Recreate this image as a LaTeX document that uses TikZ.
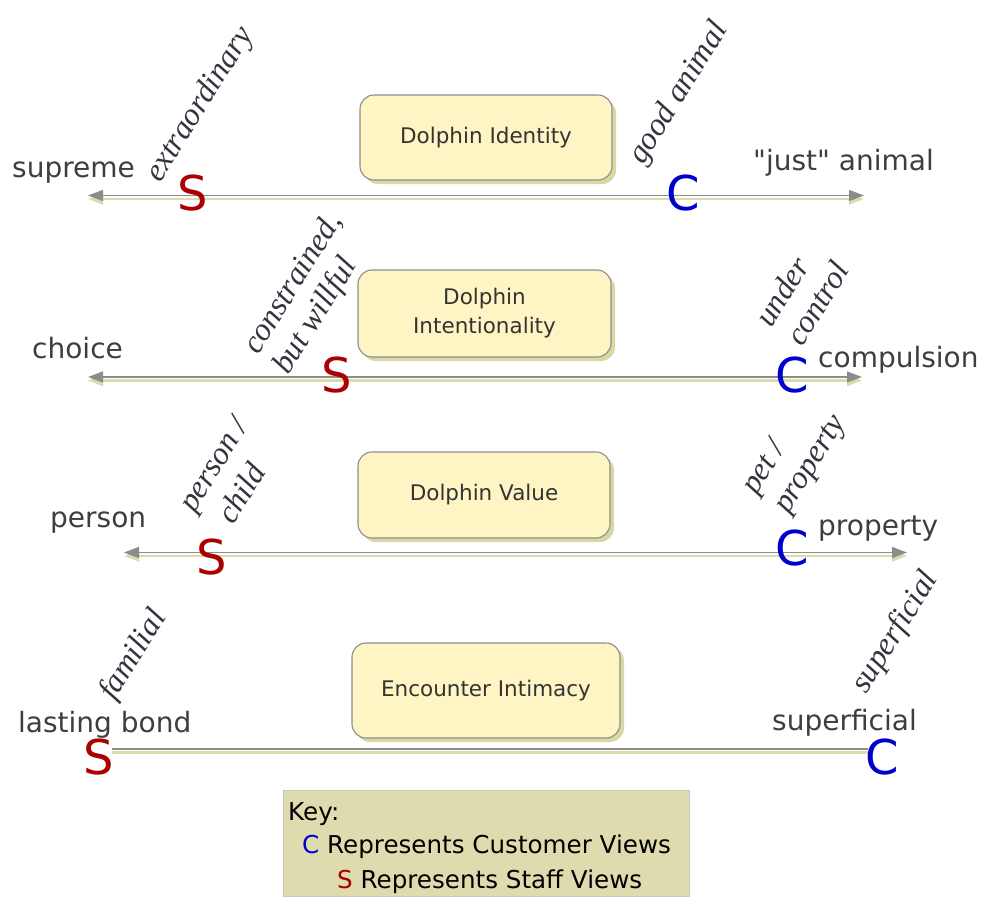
\documentclass[tikz,border=0pt]{standalone}
\usepackage{fontspec}
\setmainfont{DejaVu Sans}
\newfontfamily\polefont{DejaVu Sans}
\newfontfamily\viewfont{Liberation Serif}
\usetikzlibrary{arrows.meta,shadows}

\definecolor{polegray}{HTML}{3E3E3E}
\definecolor{viewgray}{HTML}{34343F}
\definecolor{boxfill}{HTML}{FFF4C4}
\definecolor{boxedge}{HTML}{8E8E8E}
\definecolor{boxshade}{HTML}{D8D8A2}
\definecolor{boxtext}{HTML}{333333}
\definecolor{axisgray}{HTML}{8C8C8C}
\definecolor{axiskhaki}{HTML}{DCDCAA}
\definecolor{staffred}{HTML}{AA0000}
\definecolor{custblue}{HTML}{0000CC}
\definecolor{keyfill}{HTML}{DEDCAE}
\definecolor{keyedge}{HTML}{C8C8C8}

\begin{document}
\begin{tikzpicture}[x=1pt,y=-1pt,
  pole/.style={font=\polefont\fontsize{28}{32}\selectfont, text=polegray, inner sep=0pt, anchor=base west},
  view/.style={font=\viewfont\itshape\fontsize{32}{36}\selectfont, text=viewgray, inner sep=0pt, anchor=base west, rotate=58},
  topic/.style={rounded corners=14pt, draw=boxedge, line width=1.1pt, fill=boxfill,
    align=center, font=\fontsize{21.5}{29}\selectfont, text=boxtext,
    drop shadow={shadow xshift=4pt, shadow yshift=-4pt, fill=boxshade, opacity=1}},
  staffmark/.style={font=\fontsize{48}{48}\selectfont, text=staffred, inner sep=0pt},
  custmark/.style={font=\fontsize{48}{48}\selectfont, text=custblue, inner sep=0pt},
  axisline/.style={draw=axisgray, line width=1.6pt},
  axisshade/.style={draw=axiskhaki, line width=2.4pt, transform canvas={yshift=-3.5pt}},
  bothtips/.style={arrows={Triangle[length=15pt,width=11pt]-Triangle[length=15pt,width=11pt]}},
  keytext/.style={font=\polefont\fontsize{24.6}{28}\selectfont, text=black, inner sep=0pt, anchor=base west}
]
\useasboundingbox (0,0) rectangle (984,899);

% axis end points
\coordinate (a1l) at (88,195.5);  \coordinate (a1r) at (864,195.5);
\coordinate (a2l) at (88,377);    \coordinate (a2r) at (862,377);
\coordinate (a3l) at (124,552.5); \coordinate (a3r) at (907,552.5);
\coordinate (a4l) at (112,749);   \coordinate (a4r) at (868,749);

% scales (khaki under-stroke, then gray line)
\draw[axisshade, bothtips] (a1l) -- (a1r);
\draw[axisline, bothtips] (a1l) -- (a1r);
\draw[axisshade, bothtips] (a2l) -- (a2r);
\draw[axisline, bothtips] (a2l) -- (a2r);
\draw[axisshade, bothtips] (a3l) -- (a3r);
\draw[axisline, bothtips] (a3l) -- (a3r);
\draw[axisshade] (a4l) -- (a4r);
\draw[axisline] (a4l) -- (a4r);

% topic boxes
\node[topic, minimum width=252pt, minimum height=85pt] (identity) at (486,137.5) {Dolphin Identity};
\node[topic, minimum width=253pt, minimum height=87pt] (intent) at (484.5,313.5) {Dolphin\\Intentionality};
\node[topic, minimum width=252pt, minimum height=86pt] (value) at (484,495) {Dolphin Value};
\node[topic, minimum width=268pt, minimum height=95pt] (intimacy) at (486,690.5) {Encounter Intimacy};

% scale end labels
\node[pole] (supreme) at (12,177) {supreme};
\node[pole] (justanimal) at (753,170) {"just" animal};
\node[pole] (choice) at (32,358) {choice};
\node[pole] (compulsion) at (818,367) {compulsion};
\node[pole] (person) at (50,527) {person};
\node[pole] (property) at (818,535) {property};
\node[pole] (lasting) at (18,732) {lasting bond};
\node[pole] (superficial) at (772,730) {superficial};

% slanted view descriptions
\node[view] (vextra) at (160,184) {extraordinary};
\node[view] (vgood) at (643,166) {good animal};
\node[view] (vconstr) at (258,356) {constrained,};
\node[view] (vwill) at (288,376) {but willful};
\node[view] (vunder) at (771,329) {under};
\node[view] (vcontrol) at (802,348) {control};
\node[view] (vperson) at (194,514) {person /};
\node[view] (vchild) at (233,526) {child};
\node[view] (vpet) at (756,496) {pet /};
\node[view] (vproperty) at (788,515) {property};
\node[view] (vfamilial) at (114,702) {familial};
\node[view] (vsuper) at (866,695) {superficial};

% staff and customer positions
\node[staffmark] (s1) at (193,193) {S};
\node[custmark]  (c1) at (683,193) {C};
\node[staffmark] (s2) at (337,375) {S};
\node[custmark]  (c2) at (792,375) {C};
\node[staffmark] (s3) at (212,557) {S};
\node[custmark]  (c3) at (792,548) {C};
\node[staffmark] (s4) at (99,757) {S};
\node[custmark]  (c4) at (882,757) {C};

% key
\node[draw=keyedge, fill=keyfill, line width=1pt, minimum width=406pt, minimum height=106pt, inner sep=0pt] (key) at (486,843) {};
\node[keytext] (keyhead) at (288,820) {Key:};
\node[keytext] (keycust) at (302,853) {\textcolor{custblue}{C} Represents Customer Views};
\node[keytext] (keystaff) at (337,888) {\textcolor{staffred}{S} Represents Staff Views};
\end{tikzpicture}
\end{document}
